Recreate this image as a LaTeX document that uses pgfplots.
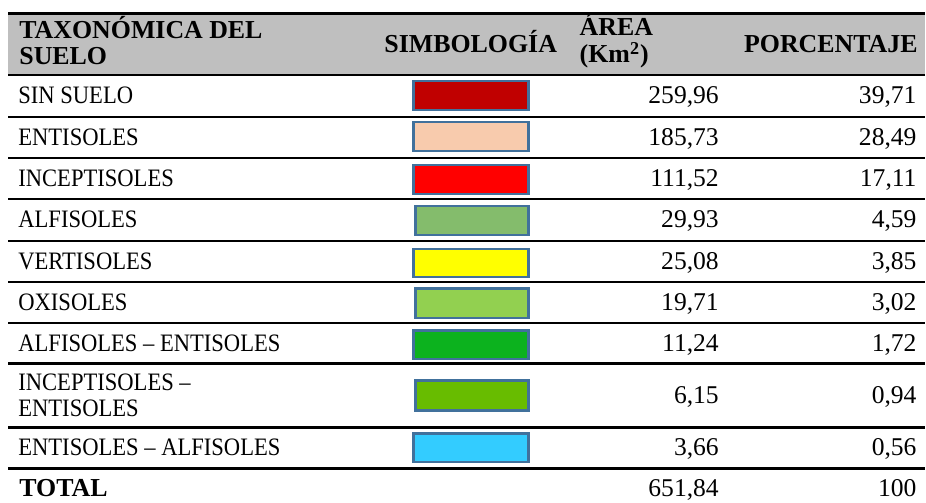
\documentclass[border=0pt]{standalone}
\usepackage{fontspec}
\setmainfont{Liberation Serif}
\newfontfamily\namefamily[FakeStretch=0.9]{Liberation Serif}
\usepackage{pgfplots}
\usepackage{pgfplotstable}
\pgfplotsset{compat=1.18}

\definecolor{hdrgray}{HTML}{BFBFBF}
\definecolor{swborder}{HTML}{41719C}
\definecolor{cSinSuelo}{HTML}{C00000}
\definecolor{cEntisoles}{HTML}{F8CBAD}
\definecolor{cInceptisoles}{HTML}{FF0000}
\definecolor{cAlfisoles}{HTML}{84BC6C}
\definecolor{cVertisoles}{HTML}{FFFF00}
\definecolor{cOxisoles}{HTML}{92D050}
\definecolor{cAlfEnt}{HTML}{0CB21E}
\definecolor{cIncEnt}{HTML}{68BC00}
\definecolor{cEntAlf}{HTML}{33CCFF}

\newcommand\namefont{\namefamily\fontsize{12.6}{14}\selectfont}
\newcommand\numfont{\fontsize{12.85}{14}\selectfont}
\newcommand\headfont{\fontsize{13}{15}\selectfont\bfseries}

% soil names, one line each (y = baseline, in pixel rows)
\pgfplotstableread{
y name
104 {SIN SUELO}
145.5 {ENTISOLES}
186.5 {INCEPTISOLES}
228 {ALFISOLES}
269.5 {VERTISOLES}
310.5 {OXISOLES}
351.5 {ALFISOLES – ENTISOLES}
391 {INCEPTISOLES –}
416.5 {ENTISOLES}
456.5 {ENTISOLES – ALFISOLES}
}\names

% area (km2) and percentage per row
\pgfplotstableread{
y area pct
104 {259,96} {39,71}
146 {185,73} {28,49}
187 {111,52} {17,11}
228 {29,93} {4,59}
269.5 {25,08} {3,85}
310.5 {19,71} {3,02}
351.5 {11,24} {1,72}
404 {6,15} {0,94}
456.5 {3,66} {0,56}
}\values

\begin{document}
\begin{tikzpicture}
\begin{axis}[
    width=463bp, height=251.5bp,
    scale only axis,
    xmin=0, xmax=926, ymin=0, ymax=503,
    y dir=reverse,
    hide axis,
    clip=false,
]
% keep the full frame in the bounding box
\addplot[draw=none, mark=none] coordinates {(0,0) (926,503)};

% header band and rules
\addplot[fill=hdrgray, draw=none] coordinates {(8.5,13.5) (926,13.5) (926,75) (8.5,75)} -- cycle;
\addplot[black, line width=1.1bp] coordinates {(8.5,13.5) (926,13.5)};
\pgfplotsinvokeforeach{75,117,158,199,241,282,323,364,428,469}{
  \addplot[black, line width=1.1bp] coordinates {(8.5,#1) (926,#1)};
}

% symbology swatches
\addplot[fill=cSinSuelo, draw=swborder, line width=1.2bp] coordinates {(414,81) (529,81) (529,110) (414,110)} -- cycle;
\addplot[fill=cEntisoles, draw=swborder, line width=1.2bp] coordinates {(414,122) (529,122) (529,151) (414,151)} -- cycle;
\addplot[fill=cInceptisoles, draw=swborder, line width=1.2bp] coordinates {(414,165) (529,165) (529,194) (414,194)} -- cycle;
\addplot[fill=cAlfisoles, draw=swborder, line width=1.2bp] coordinates {(416,206) (529,206) (529,235.5) (416,235.5)} -- cycle;
\addplot[fill=cVertisoles, draw=swborder, line width=1.2bp] coordinates {(414,249) (529,249) (529,277.5) (414,277.5)} -- cycle;
\addplot[fill=cOxisoles, draw=swborder, line width=1.2bp] coordinates {(416,289) (529,289) (529,318.5) (416,318.5)} -- cycle;
\addplot[fill=cAlfEnt, draw=swborder, line width=1.2bp] coordinates {(414,331) (529,331) (529,359.5) (414,359.5)} -- cycle;
\addplot[fill=cIncEnt, draw=swborder, line width=1.2bp] coordinates {(416,381) (529,381) (529,411) (416,411)} -- cycle;
\addplot[fill=cEntAlf, draw=swborder, line width=1.2bp] coordinates {(414,434) (529,434) (529,462.5) (414,462.5)} -- cycle;

% body text
\addplot[draw=none, mark=none, nodes near coords, point meta=explicit symbolic,
  every node near coord/.append style={anchor=base west, inner sep=0pt, font=\namefont}]
  table[x expr=18, y=y, meta=name] {\names};
\addplot[draw=none, mark=none, nodes near coords, point meta=explicit symbolic,
  every node near coord/.append style={anchor=base east, inner sep=0pt, font=\numfont}]
  table[x expr=720, y=y, meta=area] {\values};
\addplot[draw=none, mark=none, nodes near coords, point meta=explicit symbolic,
  every node near coord/.append style={anchor=base east, inner sep=0pt, font=\numfont}]
  table[x expr=918, y=y, meta=pct] {\values};

% header text
\node[anchor=base west, inner sep=0pt, font=\headfont] at (axis cs:19,39) {TAXONÓMICA DEL};
\node[anchor=base west, inner sep=0pt, font=\headfont] at (axis cs:19,65) {SUELO};
\node[anchor=base east, inner sep=0pt, font=\headfont] at (axis cs:558,53) {SIMBOLOGÍA};
\node[anchor=base west, inner sep=0pt, font=\headfont] at (axis cs:580,36) {ÁREA};
\node[anchor=base west, inner sep=0pt, font=\headfont] at (axis cs:580,63) {(Km\textsuperscript{2})};
\node[anchor=base east, inner sep=0pt, font=\headfont] at (axis cs:919,53) {PORCENTAJE};

% total row
\node[anchor=base west, inner sep=0pt, font=\headfont] at (axis cs:19,497) {TOTAL};
\node[anchor=base east, inner sep=0pt, font=\numfont] at (axis cs:720,497) {651,84};
\node[anchor=base east, inner sep=0pt, font=\numfont] at (axis cs:918,497) {100};
\end{axis}
\end{tikzpicture}
\end{document}
